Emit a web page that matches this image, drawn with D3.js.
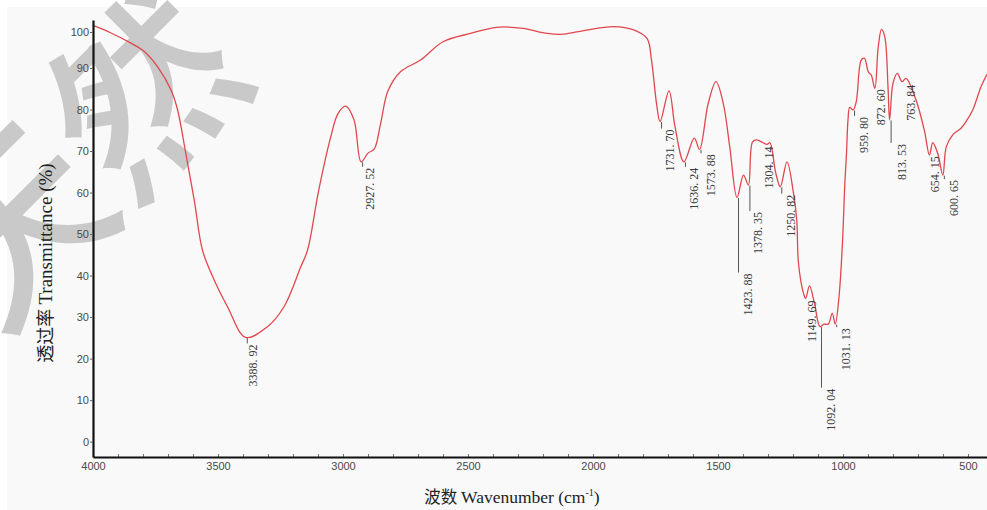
<!DOCTYPE html>
<html>
<head>
<meta charset="utf-8">
<script src="https://cdn.jsdelivr.net/npm/d3@7/dist/d3.min.js"></script>
<style>
  body { margin: 0; background: #ffffff; }
  svg { display: block; }
</style>
</head>
<body>
<svg id="chart" width="987" height="510"></svg>
<script>
// FTIR spectrum: wavenumber (cm-1) and transmittance (%)
const wavenumber = [
  4000, 3930, 3848, 3795, 3742, 3688, 3662, 3629, 3595, 3562, 3515, 3462,
  3388.92, 3302, 3236, 3169, 3142, 3097, 3049, 3020, 2989, 2956, 2927.52,
  2900, 2875, 2850, 2820, 2770, 2690, 2600, 2490, 2385, 2280, 2183, 2117,
  2037, 1917, 1837, 1784, 1766, 1746, 1731.70, 1696, 1672, 1636.24, 1595,
  1573.88, 1539, 1508, 1479, 1453, 1423.88, 1398, 1378.35, 1362, 1345, 1320,
  1304.14, 1292, 1270, 1250.82, 1224, 1198, 1185, 1178, 1158, 1149.69, 1134,
  1114, 1092.04, 1076, 1059, 1043, 1031.13, 1016, 1003, 992, 986, 980, 973,
  959.80, 947, 927, 914, 899, 887, 872.60, 859, 846, 833, 820, 813.53, 800,
  783, 763.84, 748, 708, 675, 654.15, 641, 621, 600.65, 587, 561, 528, 508,
  481, 448, 424
];
const transmittance = [
  101.8, 99.8, 96.9, 94.6, 90.4, 84.7, 80.0, 69.5, 58.2, 46.1, 38.9, 32.5,
  25.1, 27.7, 32.5, 42.1, 46.1, 60.6, 73.4, 79.0, 80.8, 77.5, 67.4,
  69.5, 70.5, 76.5, 84.5, 89.1, 92.2, 97.3, 99.6, 101.3, 101.0, 99.6, 99.4,
  100.4, 101.5, 100.6, 98.2, 92.2, 81.5, 77.1, 84.5, 75.9, 67.4, 73.1,
  70.4, 81.5, 86.7, 81.5, 71.0, 58.8, 64.2, 61.8, 72.2, 72.7, 72.0,
  71.6, 72.0, 65.0, 61.4, 67.4, 59.8, 53.4, 42.9, 35.7, 34.5, 37.5,
  33.3, 27.7, 28.3, 28.3, 30.9, 28.3, 34.9, 46.9, 63.0, 69.4, 77.5, 80.5,
  79.9, 81.9, 92.2, 92.7, 89.1, 88.3, 85.1, 95.9, 100.7, 98.7, 85.5, 77.5, 86.3,
  88.7, 86.7, 87.5, 82.3, 75.1, 69.0, 72.0, 69.4, 64.2, 71.0, 73.9, 75.5, 77.1,
  79.9, 85.5, 88.5
];

// Marked absorption bands
const peakWavenumbers = [
  3388.92, 2927.52, 1731.70, 1636.24, 1573.88, 1423.88, 1378.35, 1304.14,
  1250.82, 1149.69, 1092.04, 1031.13, 959.80, 872.60, 813.53, 763.84,
  654.15, 600.65
];
const peakLabels = [
  "3388. 92", "2927. 52", "1731. 70", "1636. 24", "1573. 88", "1423. 88",
  "1378. 35", "1304. 14", "1250. 82", "1149. 69", "1092. 04", "1031. 13",
  "959. 80", "872. 60", "813. 53", "763. 84", "654. 15", "600. 65"
];
// label layout: gap from the band minimum to the label (px), and horizontal shift of the label centre (px)
const labelGap = [7, 6, 8, 6, 5, 76, 27, 2, 8, 2, 62, 4, 7, 1, 24, 3, 1, 5];
const labelShift = [7, 9, 10, 10, 11, 11, 10, 2, 11, 6, 11, 11, 11, 6, 12, 9, 6, 11];

const xTicks = [4000, 3500, 3000, 2500, 2000, 1500, 1000, 500];
const xMinorTicks = d3.range(4000, 499, -100);
const yTicks = [0, 10, 20, 30, 40, 50, 60, 70, 80, 90, 100];

const svg = d3.select("#chart");

// paper background
svg.append("rect").attr("x", 7).attr("y", 7).attr("width", 980).attr("height", 503)
  .attr("fill", "#f9f9f9");

// site watermark behind the plot
svg.append("text")
  .attr("transform", "translate(70,150) rotate(-45)")
  .attr("text-anchor", "middle")
  .attr("dominant-baseline", "central")
  .attr("font-family", "'Noto Sans CJK SC', sans-serif")
  .attr("font-weight", 500)
  .attr("font-size", 185)
  .attr("fill", "#c9c9c9")
  .text("天然");

const x = d3.scaleLinear().domain([4000, 424]).range([93, 987]);
const y = d3.scaleLinear().domain([-3.7, 90, 100, 103.3]).range([457, 68, 32, 20]);

// spectrum
const pts = wavenumber.map((w, i) => [w, transmittance[i]]);
const line = d3.line().x(d => x(d[0])).y(d => y(d[1])).curve(d3.curveCatmullRom.alpha(0.5));
svg.append("path").datum(pts)
  .attr("d", line)
  .attr("fill", "none")
  .attr("stroke", "#e0474f")
  .attr("stroke-width", 1.3)
  .attr("stroke-linejoin", "round");

// band labels: leader line under the minimum, value reading upward
const labelG = svg.append("g");
peakWavenumbers.forEach((w, i) => {
  const t = transmittance[wavenumber.indexOf(w)];
  const px = x(w), py = y(t);
  const top = py + labelGap[i];
  if (labelGap[i] > 3) {
    labelG.append("line")
      .attr("x1", px + 1.5).attr("x2", px + 1.5).attr("y1", py + 0.5).attr("y2", top - 1)
      .attr("stroke", "#555").attr("stroke-width", 1);
  }
  labelG.append("text")
    .attr("transform", `translate(${px + labelShift[i] + 4},${top}) rotate(-90)`)
    .attr("text-anchor", "end")
    .attr("font-family", "'Liberation Serif', 'Times New Roman', serif")
    .attr("font-size", 12)
    .attr("fill", "#3a3a3a")
    .text(peakLabels[i]);
});

// x axis: minor ticks every 100 cm-1 pointing inward
svg.append("g").attr("transform", "translate(0,457)")
  .call(d3.axisBottom(x).tickValues(xMinorTicks).tickSize(-3).tickSizeOuter(0).tickFormat(""))
  .call(g => g.select(".domain").remove())
  .call(g => g.selectAll(".tick line").attr("stroke", "#777"));

const xAxis = svg.append("g").attr("transform", "translate(0,457)")
  .call(d3.axisBottom(x).tickValues(xTicks).tickSize(0).tickSizeOuter(0).tickPadding(5)
    .tickFormat(d3.format("d")));
xAxis.select(".domain").attr("stroke", "#111").attr("stroke-width", 2.2);
xAxis.selectAll(".tick text")
  .attr("font-family", "'Liberation Sans', Arial, sans-serif")
  .attr("font-size", 11).attr("fill", "#4a4a4a");

const yAxis = svg.append("g").attr("transform", "translate(93,0)")
  .call(d3.axisLeft(y).tickValues(yTicks).tickSize(3).tickSizeOuter(0).tickPadding(1)
    .tickFormat(d3.format("d")));
yAxis.select(".domain").attr("stroke", "#111").attr("stroke-width", 2.2);
yAxis.selectAll(".tick line").attr("stroke", "#666");
yAxis.selectAll(".tick text")
  .attr("font-family", "'Liberation Sans', Arial, sans-serif")
  .attr("font-size", 11).attr("fill", "#4a4a4a");

// axis titles
const xTitle = svg.append("text")
  .attr("x", 512).attr("y", 503)
  .attr("text-anchor", "middle")
  .attr("font-family", "'Liberation Serif', 'Times New Roman', serif")
  .attr("font-size", 17.5).attr("fill", "#222");
xTitle.append("tspan").attr("font-family", "'Noto Sans CJK SC', sans-serif").attr("font-size", 16.5).text("波数 ");
xTitle.append("tspan").text("Wavenumber (cm");
xTitle.append("tspan").attr("font-size", 10).attr("dy", -7).text("-1");
xTitle.append("tspan").attr("dy", 7).text(")");

const yTitle = svg.append("text")
  .attr("transform", "translate(52,263) rotate(-90)")
  .attr("text-anchor", "middle")
  .attr("font-family", "'Liberation Serif', 'Times New Roman', serif")
  .attr("font-size", 19).attr("fill", "#222");
yTitle.append("tspan").attr("font-family", "'Noto Sans CJK SC', sans-serif").attr("font-size", 18).text("透过率 ");
yTitle.append("tspan").text("Transmittance (%)");
</script>
</body>
</html>
